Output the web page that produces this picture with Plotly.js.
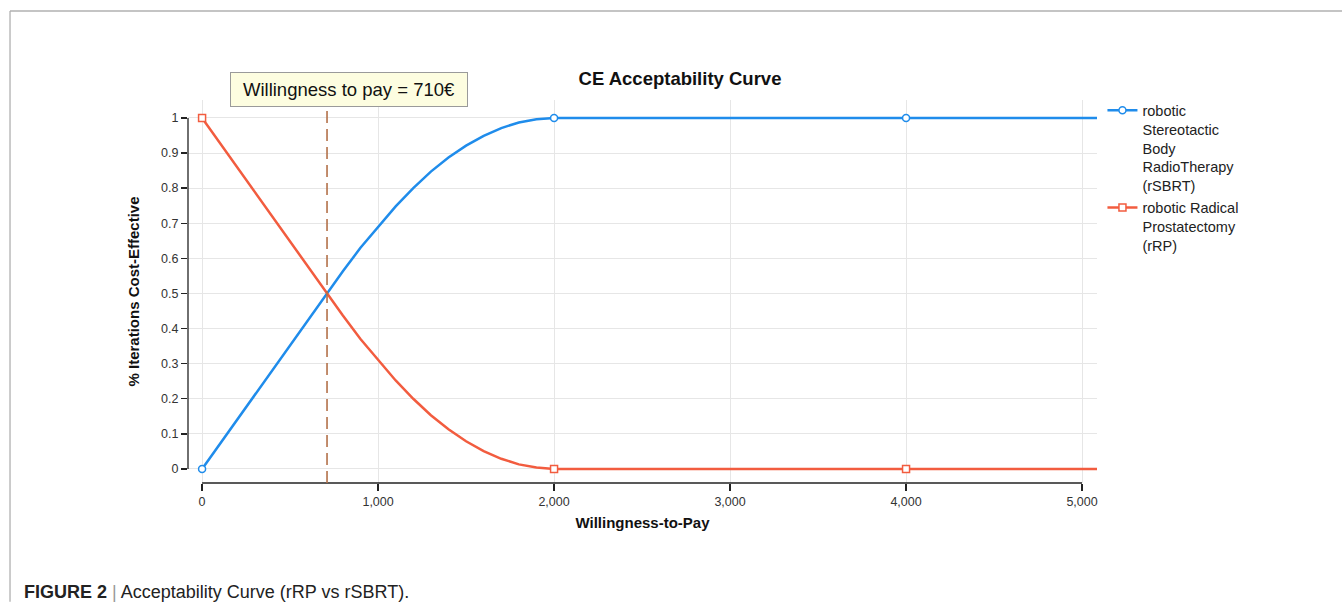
<!DOCTYPE html>
<html>
<head>
<meta charset="utf-8">
<script src="https://cdn.plot.ly/plotly-3.0.1.min.js"></script>
<style>html,body{margin:0;padding:0;background:#fff;}#chart{width:1342px;height:606px;}</style>
</head>
<body>
<div id="chart"></div>
<script>
// Data
const wtp = [0, 710, 800, 900, 1000, 1100, 1200, 1300, 1400, 1500, 1600, 1700, 1800, 1900, 2000, 4000, 5085];
const rSBRT = [0, 0.5, 0.563, 0.630, 0.690, 0.748, 0.800, 0.847, 0.887, 0.921, 0.949, 0.971, 0.987, 0.996, 1, 1, 1];
const rRP = [1, 0.5, 0.437, 0.370, 0.310, 0.252, 0.200, 0.153, 0.113, 0.079, 0.051, 0.029, 0.013, 0.004, 0, 0, 0];
const markerWtp = [0, 2000, 4000];
const markerSBRT = [0, 1, 1];
const markerRP = [1, 0, 0];
const thresholdWtp = 710;
const xTickVals = [0, 1000, 2000, 3000, 4000, 5000];
const yTickVals = [0, 0.1, 0.2, 0.3, 0.4, 0.5, 0.6, 0.7, 0.8, 0.9, 1];
const seriesNames = ["robotic<br>Stereotactic<br>Body<br>RadioTherapy<br>(rSBRT)", "robotic Radical<br>Prostatectomy<br>(rRP)"];

const FONT = 'Arial, "Liberation Sans", Helvetica, sans-serif';
const BLUE = '#1f8ceb';
const RED = '#f25c3f';

const traces = [
  {x: wtp, y: rSBRT, mode: 'lines', line: {color: BLUE, width: 2.5}, showlegend: false, hoverinfo: 'skip'},
  {x: wtp, y: rRP, mode: 'lines', line: {color: RED, width: 2.5}, showlegend: false, hoverinfo: 'skip'},
  {x: markerWtp, y: markerSBRT, mode: 'markers', marker: {symbol: 'circle', size: 7, color: '#fff', line: {color: BLUE, width: 1.5}}, showlegend: false, cliponaxis: false},
  {x: markerWtp, y: markerRP, mode: 'markers', marker: {symbol: 'square', size: 7, color: '#fff', line: {color: RED, width: 1.5}}, showlegend: false, cliponaxis: false},
  {x: [null], y: [null], name: seriesNames[0], mode: 'lines+markers', line: {color: BLUE, width: 2.5}, marker: {symbol: 'circle', size: 7, color: '#fff', line: {color: BLUE, width: 1.5}}},
  {x: [null], y: [null], name: seriesNames[1], mode: 'lines+markers', line: {color: RED, width: 2.5}, marker: {symbol: 'square', size: 7, color: '#fff', line: {color: RED, width: 1.5}}}
];

const layout = {
  width: 1342, height: 606,
  margin: {l: 188, r: 245, t: 100, b: 123},
  paper_bgcolor: '#fff', plot_bgcolor: '#fff',
  font: {family: FONT, color: '#222'},
  title: {text: '<b>CE Acceptability Curve</b>', font: {size: 18.5, color: '#111', family: FONT}, x: 680/1342, xref: 'container', xanchor: 'center', y: 1 - 79/606, yref: 'container', yanchor: 'middle'},
  xaxis: {
    range: [-80, 5085], tickvals: xTickVals, tickformat: ',d',
    showgrid: true, gridcolor: '#e6e6e6', zeroline: false, showline: false,
    ticks: 'outside', ticklen: 7, tickcolor: '#222', tickwidth: 1.3,
    tickfont: {size: 12.5, color: '#333'},
    title: {text: '<b>Willingness-to-Pay</b>', font: {size: 15, color: '#111'}, standoff: 9}
  },
  yaxis: {
    range: [-0.04, 1.051], tickvals: yTickVals,
    showgrid: true, gridcolor: '#e6e6e6', zeroline: false, showline: false,
    ticks: 'outside', ticklen: 6, tickcolor: '#222', tickwidth: 1.3,
    tickfont: {size: 12.5, color: '#333'},
    title: {text: '<b>% Iterations Cost-Effective</b>', font: {size: 15, color: '#111'}, standoff: 17}
  },
  legend: {x: 1.006, xanchor: 'left', y: 1.015, yanchor: 'top', font: {size: 14.5, color: '#222'}, valign: 'top', tracegroupgap: 2, itemwidth: 30, bgcolor: 'rgba(0,0,0,0)'},
  shapes: [
    {type: 'line', xref: 'x', yref: 'paper', x0: 0, x1: 5000, y0: 0, y1: 0, line: {color: '#222', width: 1.3}},
    {type: 'line', xref: 'paper', yref: 'y', x0: 0, x1: 0, y0: 0, y1: 1, line: {color: '#222', width: 1.3}},
    {type: 'line', xref: 'x', yref: 'paper', x0: thresholdWtp, x1: thresholdWtp, y0: 0, y1: 1.03, line: {color: '#b3714a', width: 1.6, dash: '12px,6px'}},
    {type: 'line', xref: 'paper', yref: 'paper', x0: -0.1958, x1: 1.27, y0: 1.2324, y1: 1.2324, line: {color: '#b0b0b0', width: 1.3}},
    {type: 'line', xref: 'paper', yref: 'paper', x0: -0.1958, x1: -0.1958, y0: 1.2324, y1: -0.31, line: {color: '#b0b0b0', width: 1.3}}
  ],
  annotations: [
    {xref: 'paper', yref: 'paper', x: 0.1771, y: 1.0287, xanchor: 'center', yanchor: 'middle', showarrow: false,
     text: 'Willingness to pay = ' + thresholdWtp + '€', font: {size: 18.5, color: '#111', family: FONT},
     bgcolor: '#fdfde0', bordercolor: '#9a9a9a', borderwidth: 1, borderpad: 6, width: 224, height: 21},
    {xref: 'paper', yref: 'paper', x: (22-188)/909, y: (483-592)/383, xanchor: 'left', yanchor: 'middle', showarrow: false,
     text: '<b>FIGURE 2</b> <span style="color:#999">|</span> Acceptability Curve (rRP vs rSBRT).', font: {size: 18, color: '#222', family: FONT}}
  ]
};

Plotly.newPlot('chart', traces, layout, {displayModeBar: false, staticPlot: true});
</script>
</body>
</html>
